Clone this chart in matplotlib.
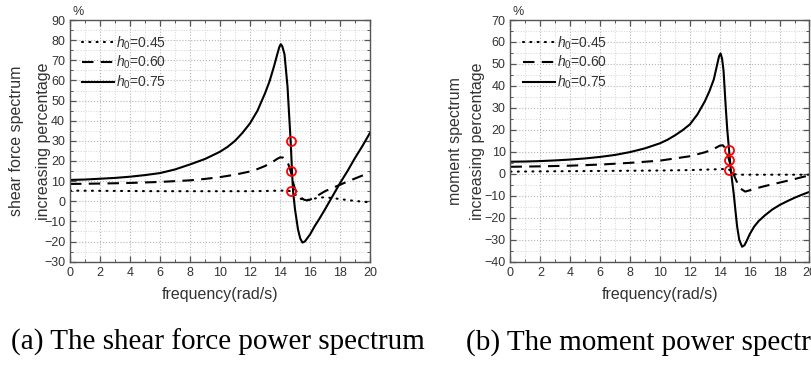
import numpy as np
import matplotlib
matplotlib.use('Agg')
import matplotlib.pyplot as plt
from matplotlib.ticker import MultipleLocator

plt.rcParams['font.family'] = ['Liberation Sans', 'DejaVu Sans']
plt.rcParams['mathtext.fontset'] = 'custom'
plt.rcParams['mathtext.rm'] = 'Liberation Sans'
plt.rcParams['mathtext.it'] = 'Liberation Sans:italic'

# ---- data ----
# (a) shear force spectrum increasing percentage (%)
shear_x_075 = [0, 1, 2, 3, 4, 5, 6, 7, 8, 9, 10, 10.5, 11, 11.5, 12, 12.5, 13, 13.3, 13.6, 13.8,
               13.95, 14.05, 14.15, 14.3, 14.5, 14.6, 14.71, 14.8, 14.87, 15.0, 15.1, 15.2, 15.35,
               15.5, 15.65, 15.8, 16.0, 16.3, 16.6, 17.0, 17.5, 18.0, 18.5, 19.0, 19.5, 20]
shear_y_075 = [10.6, 10.8, 11.2, 11.6, 12.2, 13.0, 14.0, 15.8, 18.3, 21, 24.6, 27, 30, 34, 38.7, 45,
               53.6, 59.5, 67, 72.5, 76.5, 78, 77, 73, 57, 44, 30, 15, 5, -4, -9, -14, -18.5,
               -20.5, -20, -18.5, -16.5, -12.5, -9, -4, 2.5, 9, 15, 21.5, 27.5, 34]
shear_x_060 = [0, 2, 4, 6, 8, 9, 10, 11, 12, 12.5, 13, 13.5, 13.8, 14.0, 14.2, 14.4, 14.55, 14.71,
               14.85, 15.0, 15.2, 15.4, 15.6, 15.8, 16.0, 16.5, 17.0, 17.5, 18.0, 18.5, 19.0, 19.5, 20]
shear_y_060 = [8.6, 8.8, 9.1, 9.6, 10.4, 11.1, 12, 13.2, 14.8, 16, 17.5, 19.5, 21, 21.8, 21.7, 20.5,
               18.5, 15, 10, 6, 3.5, 1.8, 0.8, 0.4, 0.8, 2.8, 5, 6.6, 8.2, 9.8, 11.3, 12.8, 14.2]
shear_x_045 = [0, 2, 4, 6, 8, 10, 12, 13, 14, 14.5, 14.71, 14.85, 15.0, 15.2, 15.4, 15.6, 15.8,
               16.2, 16.6, 17.0, 17.5, 18.0, 18.5, 19.0, 19.5, 20]
shear_y_045 = [5.3, 5.2, 5.1, 5.0, 5.0, 5.0, 5.0, 5.1, 5.3, 5.3, 5.0, 4.5, 3.5, 2.2, 1.2, 0.6, 0.6,
               1.2, 1.8, 2.0, 1.6, 1.1, 0.6, 0.2, -0.2, -0.5]
shear_mark_x = [14.71, 14.71, 14.71]
shear_mark_y = [30, 15, 5]

# (b) moment spectrum increasing percentage (%)
moment_x_075 = [0, 1, 2, 3, 4, 5, 6, 7, 8, 9, 10, 10.5, 11, 11.5, 12, 12.5, 13, 13.3, 13.6, 13.8,
                13.95, 14.05, 14.15, 14.25, 14.4, 14.5, 14.62, 14.75, 14.93, 15.05, 15.16, 15.3,
                15.49, 15.65, 15.8, 16.0, 16.3, 16.6, 17.0, 17.5, 18.0, 18.5, 19.0, 19.5, 20]
moment_y_075 = [5.5, 5.6, 5.8, 6.1, 6.5, 7.0, 7.7, 8.6, 9.9, 11.6, 13.9, 15.5, 17.5, 19.8, 22.5, 27,
                33, 37.5, 43, 49, 53.5, 54.8, 52.5, 47, 30, 20, 10.8, 1, -9, -17, -24, -30,
                -33.2, -32.5, -30.5, -27.5, -24, -21.5, -19, -16.3, -14.2, -12.5, -10.9, -9.5, -8.2]
moment_x_060 = [0, 2, 4, 6, 8, 10, 11, 12, 13, 13.5, 14.0, 14.2, 14.4, 14.62, 14.8, 15.0, 15.2,
                15.4, 15.7, 16.0, 16.5, 17, 17.5, 18, 18.5, 19, 19.5, 20]
moment_y_060 = [3.2, 3.4, 3.7, 4.2, 5.0, 6.0, 7.0, 8.0, 9.8, 11.0, 12.8, 13.0, 11.5, 6.3, 2, -1.5,
                -4.5, -6.8, -8.1, -7.5, -6.5, -5.6, -4.8, -4.0, -3.2, -2.4, -1.5, -0.7]
moment_x_045 = [0, 2, 4, 6, 8, 10, 12, 13, 14, 14.4, 14.62, 14.8, 15.0, 15.3, 16, 17, 18, 19, 20]
moment_y_045 = [1.0, 1.1, 1.2, 1.3, 1.4, 1.5, 1.7, 1.9, 2.1, 2.2, 1.9, 0.8, -0.2, -0.4, -0.4,
                -0.4, -0.4, -0.4, -0.4]
moment_mark_x = [14.62, 14.62, 14.62]
moment_mark_y = [10.8, 6.3, 1.7]

legend_labels = [r'$h_0$=0.45', r'$h_0$=0.60', r'$h_0$=0.75']
captions = ['(a) The shear force power spectrum', '(b) The moment power spectrum']

txt = '#333333'
fig = plt.figure(figsize=(8.12, 3.70), dpi=100)
ax1 = fig.add_axes([70 / 812, 0.2927, 300 / 812, 0.6532])
ax2 = fig.add_axes([510.5 / 812, 0.2927, 299 / 812, 0.6532])


def draw_panel(ax, xs, ys, mx, my, ylim, ylabel, lab_x, lab_sp):
    dotted = (0, (0.5, 3))
    dashed = (0, (5.5, 3.5))
    ax.plot(xs[0], ys[0], color='black', lw=1.5, linestyle=dotted, dash_capstyle='round',
            label=legend_labels[0])
    ax.plot(xs[1], ys[1], color='black', lw=1.5, linestyle=dashed, label=legend_labels[1])
    ax.plot(xs[2], ys[2], color='black', lw=1.5, label=legend_labels[2])
    ax.plot(mx, my, linestyle='none', marker='o', ms=6.5, mfc='none', mec='red', mew=1.3)
    ax.set_xlim(0, 20)
    ax.set_ylim(*ylim)
    ax.xaxis.set_major_locator(MultipleLocator(2))
    ax.xaxis.set_minor_locator(MultipleLocator(1))
    ax.yaxis.set_major_locator(MultipleLocator(10))
    ax.yaxis.set_minor_locator(MultipleLocator(5))
    ax.grid(True, which='major', linestyle=':', color='#b4b4b4', lw=0.8)
    ax.grid(True, which='minor', linestyle=':', color='#d4d4d4', lw=0.7)
    ax.set_axisbelow(True)
    ax.tick_params(which='both', direction='in', top=True, right=True, colors='#555555',
                   labelcolor=txt, labelsize=9)
    ax.tick_params(which='major', length=4, width=0.9)
    ax.tick_params(which='minor', length=2, width=0.7)
    for sp in ax.spines.values():
        sp.set_color('#555555')
        sp.set_linewidth(1.0)
    ax.set_xlabel('frequency(rad/s)', fontsize=11.5, color=txt)
    ax.xaxis.set_label_coords(0.5, -0.103)
    ax.set_ylabel(ylabel, fontsize=11.5, color=txt, linespacing=lab_sp)
    ax.yaxis.set_label_coords(lab_x, 0.5)
    ax.text(0.027, 1.034, '%', transform=ax.transAxes, ha='center', va='center',
            fontsize=9, color=txt)
    ax.legend(loc='upper left', frameon=False, fontsize=10, handlelength=2.3,
              handletextpad=0.15, labelspacing=0.17, borderaxespad=0.0,
              bbox_to_anchor=(0.022, 0.964), labelcolor=txt)


draw_panel(ax1, [shear_x_045, shear_x_060, shear_x_075],
           [shear_y_045, shear_y_060, shear_y_075], shear_mark_x, shear_mark_y,
           (-30, 90), 'shear force spectrum\nincreasing percentage', -0.062, 2.0)
draw_panel(ax2, [moment_x_045, moment_x_060, moment_x_075],
           [moment_y_045, moment_y_060, moment_y_075], moment_mark_x, moment_mark_y,
           (-40, 70), 'moment spectrum\nincreasing percentage', -0.086, 1.55)

# captions below the panels (the second one runs off the right edge, as in the source)
fig.text(11 / 812, 20 / 370, captions[0], ha='left', va='baseline', fontsize=21,
         family='Liberation Serif', color='black')
fig.text(466 / 812, 20 / 370, captions[1], ha='left', va='baseline', fontsize=21,
         family='Liberation Serif', color='black')

fig.savefig('out.png', dpi=100)
